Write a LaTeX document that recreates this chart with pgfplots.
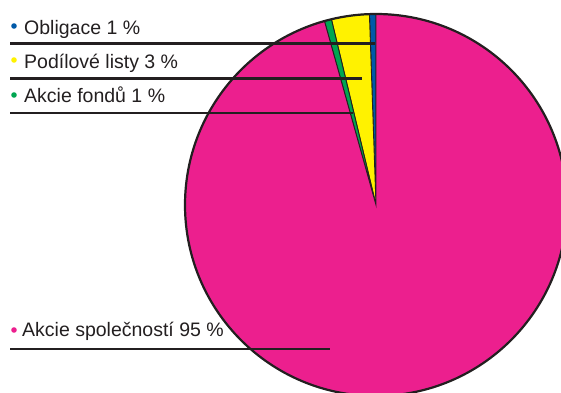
\documentclass[border=0pt]{standalone}
\usepackage{pgfplots}
\pgfplotsset{compat=1.18}
\usepackage{fontspec}
\setmainfont{Liberation Sans}
\definecolor{cpink}{HTML}{EC1F8E}
\definecolor{cyellow}{HTML}{FFF200}
\definecolor{cgreen}{HTML}{00A651}
\definecolor{cblue}{HTML}{0059A8}
\definecolor{cline}{HTML}{231F20}
% slice shares as drawn (percent), labels show rounded values
\def\vA{0.55}\def\vB{3.2}\def\vC{0.6}\def\vD{95.65}
\pgfmathsetmacro\aA{90}
\pgfmathsetmacro\aB{\aA+3.6*\vA}
\pgfmathsetmacro\aC{\aB+3.6*\vB}
\pgfmathsetmacro\aD{\aC+3.6*\vC}
\pgfmathsetmacro\aE{\aD+3.6*\vD}
\begin{document}
\begin{tikzpicture}
\begin{axis}[
  scale only axis, width=561bp, height=393bp,
  xmin=0, xmax=561, ymin=0, ymax=393,
  axis line style={draw=none}, ticks=none,
  clip=true,
]
\fill[cblue, draw=cline, line width=0.9bp] (axis cs:376,188) -- +(\aA:191bp) arc[start angle=\aA, end angle=\aB, radius=191bp] -- cycle;
\fill[cyellow, draw=cline, line width=0.9bp] (axis cs:376,188) -- +(\aB:191bp) arc[start angle=\aB, end angle=\aC, radius=191bp] -- cycle;
\fill[cgreen, draw=cline, line width=0.9bp] (axis cs:376,188) -- +(\aC:191bp) arc[start angle=\aC, end angle=\aD, radius=191bp] -- cycle;
\fill[cpink, draw=cline, line width=0.9bp] (axis cs:376,188) -- +(\aD:191bp) arc[start angle=\aD, end angle=\aE, radius=191bp] -- cycle;
\draw[cline, line width=2.2bp] (axis cs:376,188) circle[radius=191bp];
% leader lines
\draw[cline, line width=2.3bp] (axis cs:10,349.5) -- (axis cs:375,349.5);
\draw[cline, line width=2.3bp] (axis cs:10,314.5) -- (axis cs:362,314.5);
\draw[cline, line width=2.3bp] (axis cs:10,280) -- (axis cs:353,280);
\draw[cline, line width=2.3bp] (axis cs:10,44) -- (axis cs:330,44);
% bullets
\fill[cblue] (axis cs:14,367) circle[radius=2.8bp];
\fill[cyellow] (axis cs:14,333) circle[radius=2.8bp];
\fill[cgreen] (axis cs:14,298) circle[radius=2.8bp];
\fill[cpink] (axis cs:14,63) circle[radius=2.8bp];
% labels
\node[anchor=base west, inner sep=0pt, font=\fontsize{19.5bp}{22bp}\selectfont, text=cline] at (axis cs:24,359) {Obligace 1 \%};
\node[anchor=base west, inner sep=0pt, font=\fontsize{19.5bp}{22bp}\selectfont, text=cline] at (axis cs:24,325) {Podílové listy 3 \%};
\node[anchor=base west, inner sep=0pt, font=\fontsize{19.5bp}{22bp}\selectfont, text=cline] at (axis cs:24,291) {Akcie fondů 1 \%};
\node[anchor=base west, inner sep=0pt, font=\fontsize{19.5bp}{22bp}\selectfont, text=cline] at (axis cs:22,57) {Akcie společností 95 \%};
\end{axis}
\end{tikzpicture}
\end{document}
